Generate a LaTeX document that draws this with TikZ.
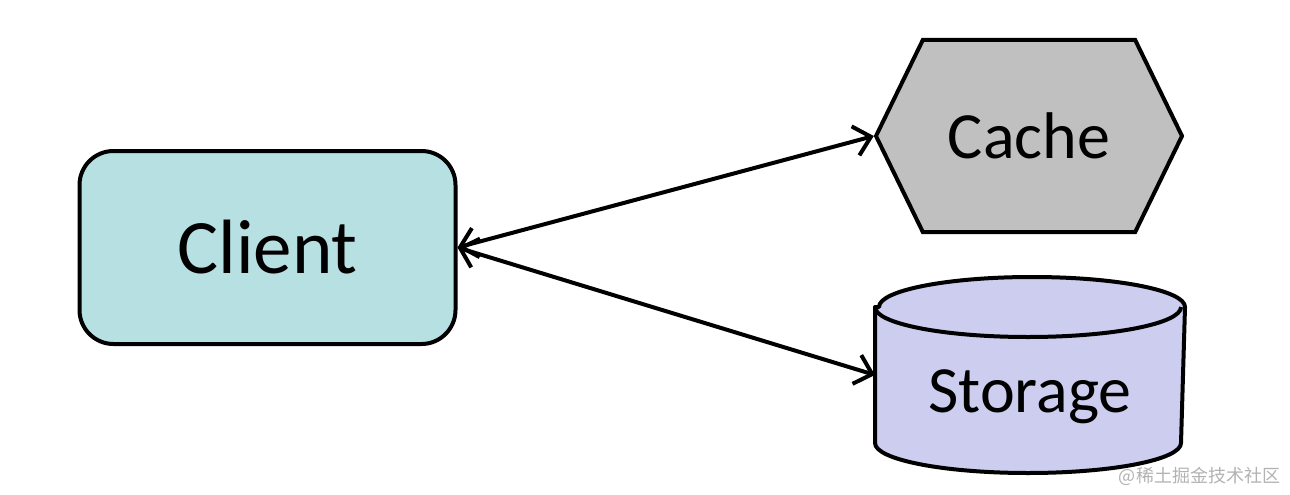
\documentclass[tikz,border=0pt]{standalone}
\usepackage{fontspec}
\setmainfont{Carlito}
\newfontfamily\cjk{Noto Sans CJK SC}
\usepackage{tikz}
\usetikzlibrary{shapes,shapes.symbols,arrows.meta,positioning,calc}
\usepackage{xcolor}
\definecolor{clientfill}{RGB}{183,224,226}
\definecolor{cachefill}{RGB}{192,192,192}
\definecolor{storagefill}{RGB}{205,205,240}

\begin{document}
\begin{tikzpicture}[
            x=1pt,y=1pt,
            every node/.style={draw=black,line width=2pt,inner sep=0pt},
            clientbox/.style={rectangle,rounded corners=17pt,fill=clientfill,
                minimum width=188pt,minimum height=96.5pt,font=\fontsize{38.5}{40}\selectfont},
            cachebox/.style={signal,signal to=east and west,signal pointer angle=128,
                fill=cachefill,minimum width=153pt,minimum height=96pt,font=\fontsize{33}{35}\selectfont},
            storagebox/.style={rectangle,draw=none,minimum width=153pt,minimum height=96pt,
                font=\fontsize{33}{35}\selectfont},
            drum/.style={draw=black,line width=2pt,line join=round,fill=storagefill},
            link/.style={line width=2pt,{Straight Barb[length=8pt,width=15pt]}-{Straight Barb[length=8pt,width=15pt]}}
        ]
            \useasboundingbox (0,0) rectangle (645,247);
            \node[clientbox] (client) at (133.75,123.25) {Client};
            \node[cachebox] (cache) at (514.5,179) {Cache};
            \node[storagebox] (storage) at (515,59.5) {};
            % cylinder round the storage node
            \draw[drum] ($(storage.north west)+(0,-15)$) -- ($(storage.south west)+(0,15)$)
                arc[start angle=180,end angle=360,x radius=76.5,y radius=15]
                -- ($(storage.north east)+(0,-15)$)
                arc[start angle=0,end angle=180,x radius=76.5,y radius=15] -- cycle;
            \draw[drum,fill=none] ($(storage.north west)+(0,-15)$)
                arc[start angle=180,end angle=360,x radius=76.5,y radius=15];
            \node[storagebox] at (storage.center) {\raisebox{-11pt}[\height][\depth]{Storage}};
            \draw[link] (client.east) -- (cache.west);
            \draw[link] (client.east) -- (storage.west);
            \node[draw=none,text=gray!60,font=\cjk\fontsize{9}{10}\selectfont,anchor=south east]
                (mark) at (641,3) {@稀土掘金技术社区};
        \end{tikzpicture}
\end{document}
